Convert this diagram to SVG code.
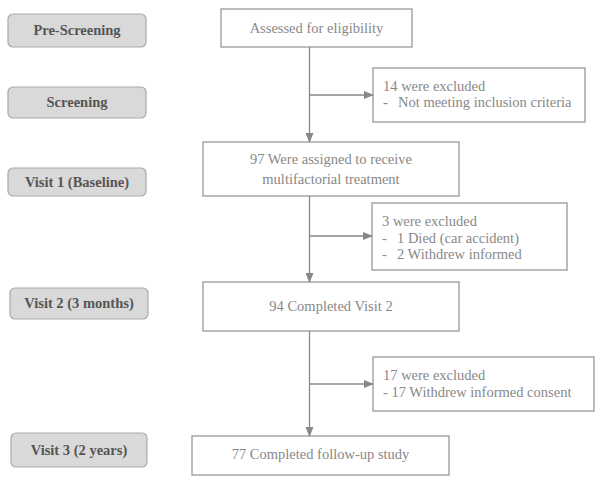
<svg xmlns="http://www.w3.org/2000/svg" width="600" height="482" viewBox="0 0 600 482">
<defs>
<marker id="ah" markerWidth="10" markerHeight="8" refX="9" refY="4" orient="auto" markerUnits="userSpaceOnUse">
<path d="M0,0 L10,4 L0,8 Z" fill="#888"/>
</marker>
<style>
.stage rect{fill:#d9d9d9;stroke:#aaa;stroke-width:1.2}
.stage text{font-family:"Liberation Serif",serif;font-weight:bold;font-size:14.5px;fill:#555;text-anchor:middle}
.box rect{fill:#fff;stroke:#999;stroke-width:1.3}
.box text{font-family:"Liberation Serif",serif;font-size:14.5px;fill:#888}
.c{text-anchor:middle}
.conn line{stroke:#888;stroke-width:1.3}
</style>
</defs>
<rect width="600" height="482" fill="#fff"/>
<g id="stage-prescreening" class="stage"><rect x="8" y="14" width="138" height="33" rx="5"/><text x="77" y="35">Pre-Screening</text></g>
<g id="stage-screening" class="stage"><rect x="8" y="87" width="138" height="31" rx="5"/><text x="77" y="107">Screening</text></g>
<g id="stage-visit1" class="stage"><rect x="8" y="168" width="138" height="28" rx="5"/><text x="77" y="187">Visit 1 (Baseline)</text></g>
<g id="stage-visit2" class="stage"><rect x="10" y="288" width="138" height="31" rx="5"/><text x="79" y="308">Visit 2 (3 months)</text></g>
<g id="stage-visit3" class="stage"><rect x="11" y="433" width="136" height="34" rx="5"/><text x="79" y="455">Visit 3 (2 years)</text></g>

<g id="assessed" class="box"><rect x="221" y="9" width="191" height="38"/><text class="c" x="316.5" y="33">Assessed for eligibility</text></g>
<g id="excluded1" class="box"><rect x="373" y="68" width="212" height="54"/><text x="383" y="91">14 were excluded</text><text x="383" y="107">-</text><text x="398" y="107">Not meeting inclusion criteria</text></g>
<g id="assigned" class="box"><rect x="203" y="142" width="256" height="54"/><text class="c" x="331" y="164">97 Were assigned to receive</text><text class="c" x="331" y="184">multifactorial treatment</text></g>
<g id="excluded2" class="box"><rect x="372" y="203" width="195" height="67"/><text x="382" y="226">3 were excluded</text><text x="382" y="243">-</text><text x="397" y="243">1 Died (car accident)</text><text x="382" y="259">-</text><text x="397" y="259">2 Withdrew informed</text></g>
<g id="visit2" class="box"><rect x="203" y="282" width="256" height="49"/><text class="c" x="331" y="311">94 Completed Visit 2</text></g>
<g id="excluded3" class="box"><rect x="373" y="357" width="221" height="54"/><text x="383" y="380">17 were excluded</text><text x="383" y="397">- 17 Withdrew informed consent</text></g>
<g id="followup" class="box"><rect x="192" y="436" width="257" height="39"/><text class="c" x="320.5" y="459">77 Completed follow-up study</text></g>

<g id="connectors" class="conn">
<line x1="309.5" y1="47" x2="309.5" y2="142" marker-end="url(#ah)"/>
<line x1="309.5" y1="95" x2="373" y2="95" marker-end="url(#ah)"/>
<line x1="309.5" y1="196" x2="309.5" y2="282" marker-end="url(#ah)"/>
<line x1="309.5" y1="236" x2="372" y2="236" marker-end="url(#ah)"/>
<line x1="309.5" y1="331" x2="309.5" y2="436" marker-end="url(#ah)"/>
<line x1="309.5" y1="384" x2="373" y2="384" marker-end="url(#ah)"/>
</g>
</svg>
